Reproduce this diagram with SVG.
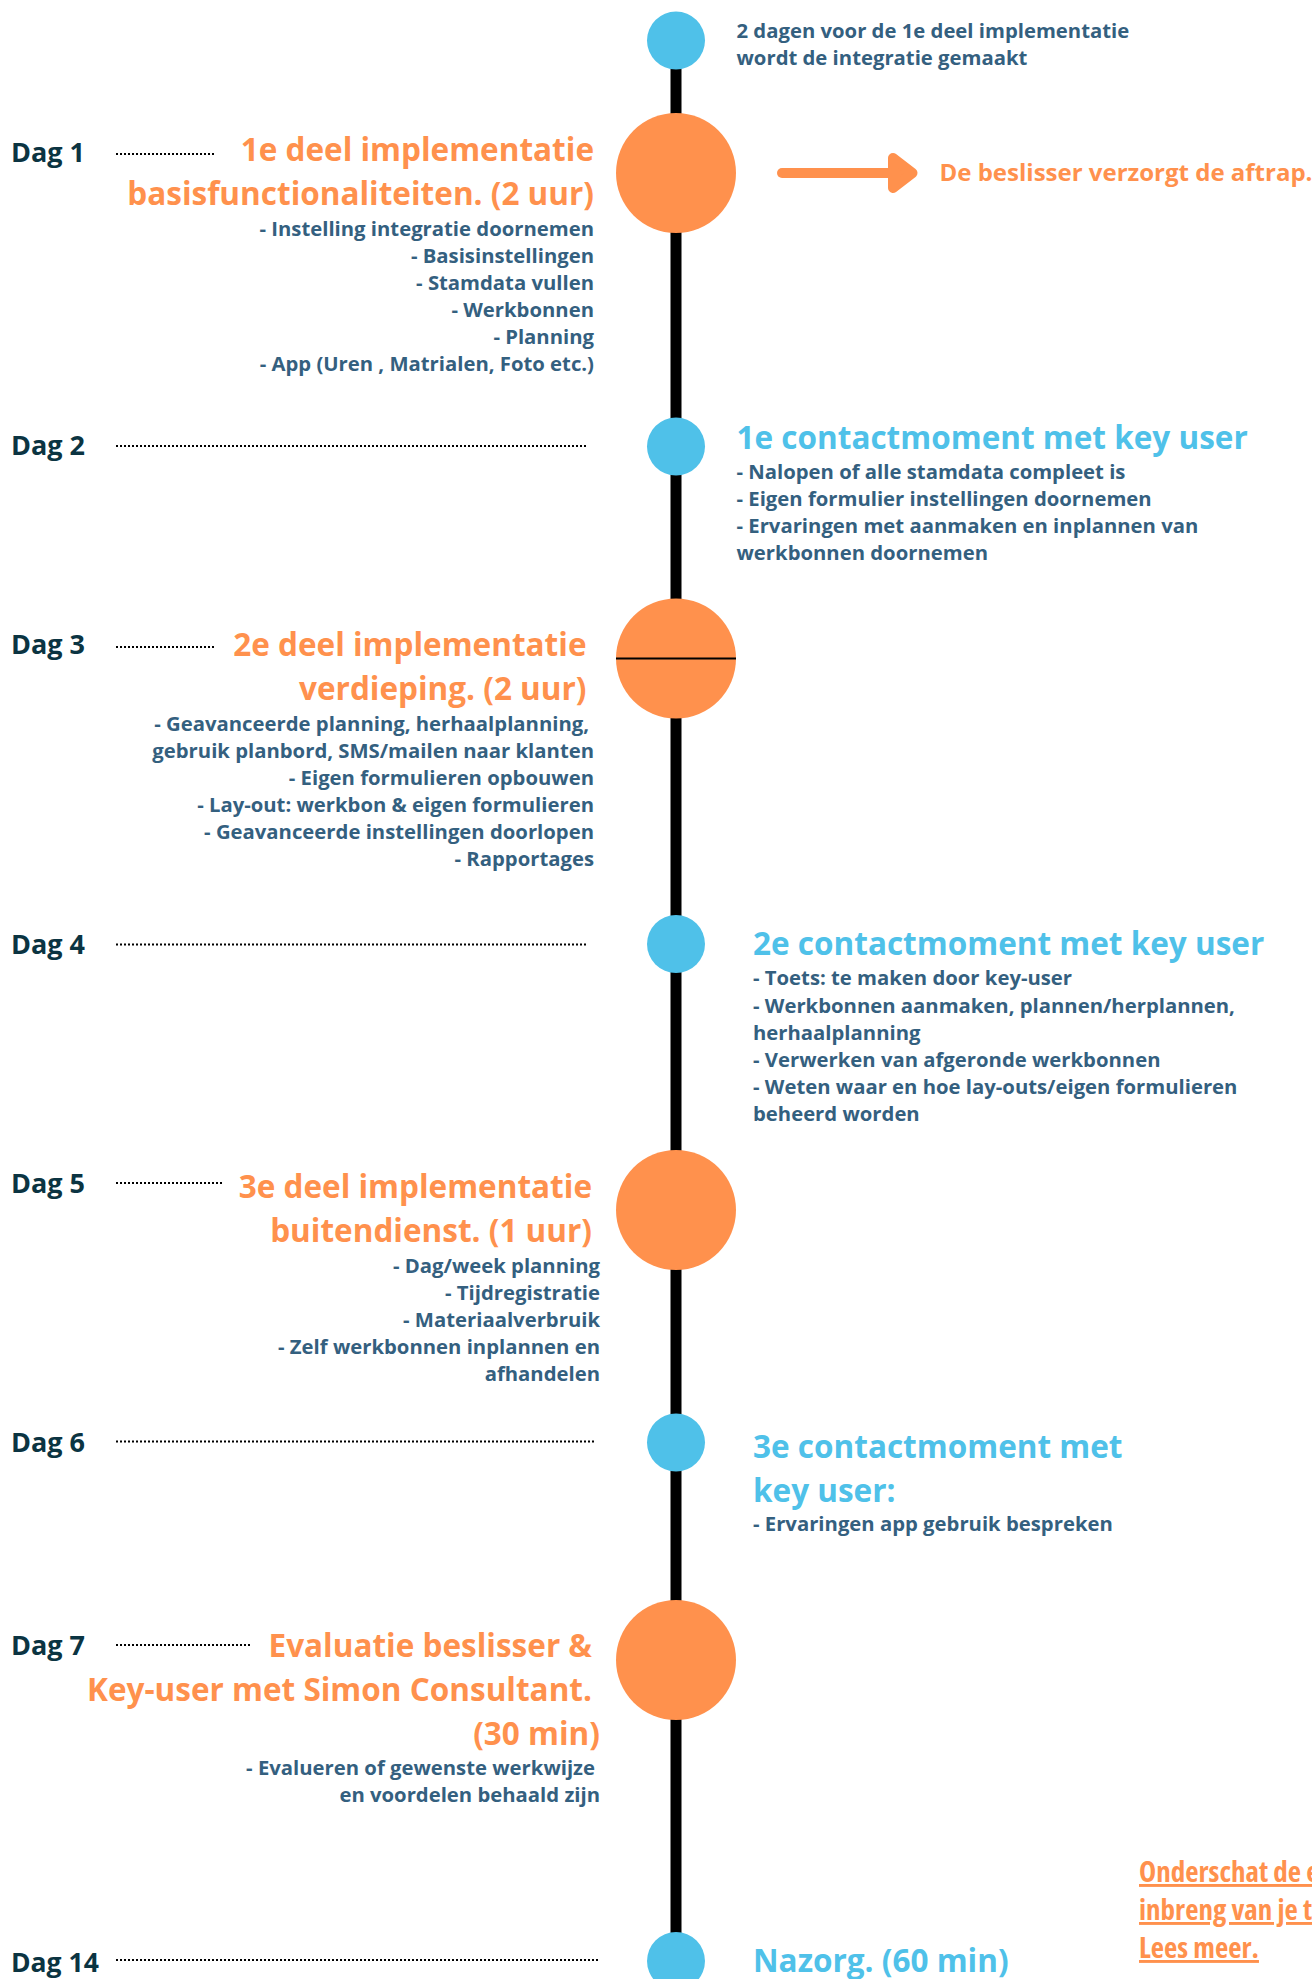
<svg xmlns="http://www.w3.org/2000/svg" width="1312" height="1979" viewBox="0 0 1312 1979">
<style>
text{font-family:"Open Sans","Noto Sans",sans-serif;font-weight:700}
.dag{font-size:27px;fill:#0b3442}
.h{font-size:31.5px;fill:#ff914d}
.hb{font-size:31.5px;fill:#4fc1e9}
.s{font-size:20.3px;fill:#34607f}
.e{text-anchor:end}
.o{fill:#ff914d}
.b{fill:#4fc1e9}
.dots{stroke:#000;stroke-width:2;stroke-dasharray:2 2;fill:none}
.link{font-size:29px;fill:#ff914d;text-decoration:underline;font-stretch:condensed}
</style>
<rect width="1312" height="1979" fill="#fff"/>
<g id="connectors">
<line x1="676" y1="40" x2="676" y2="1961" stroke="#000" stroke-width="11"/>
<line class="dots" x1="116" y1="154" x2="214" y2="154"/>
<line class="dots" x1="116" y1="446" x2="588" y2="446"/>
<line class="dots" x1="116" y1="647" x2="214" y2="647"/>
<line class="dots" x1="116" y1="944.5" x2="588" y2="944.5"/>
<line class="dots" x1="116" y1="1183" x2="222" y2="1183"/>
<line class="dots" x1="116" y1="1441.5" x2="594" y2="1441.5"/>
<line class="dots" x1="116" y1="1645" x2="251" y2="1645"/>
<line class="dots" x1="116" y1="1960" x2="599" y2="1960"/>
<g id="arrow" class="o" stroke="#ff914d" stroke-width="10" stroke-linecap="round" stroke-linejoin="round"><path d="M782 173H895" fill="none"/><path d="M893 158L912.5 173L893 188Z"/></g>
</g>
<g id="node-start"><circle class="b" cx="676" cy="40.5" r="29"/>
<text class="s" x="736.5" y="37.5">2 dagen voor de 1e deel implementatie</text>
<text class="s" x="736.5" y="64.5">wordt de integratie gemaakt</text></g>
<g id="node-dag1"><circle class="o" cx="676" cy="173" r="60"/>
<text class="dag" x="11" y="161.5">Dag 1</text>
<text class="h e" x="594" y="161">1e deel implementatie</text>
<text class="h e" x="594" y="205">basisfunctionaliteiten. (2 uur)</text>
<text class="s e" x="594" y="236">- Instelling integratie doornemen</text>
<text class="s e" x="594" y="263">- Basisinstellingen</text>
<text class="s e" x="594" y="290">- Stamdata vullen</text>
<text class="s e" x="594" y="317">- Werkbonnen</text>
<text class="s e" x="594" y="344">- Planning</text>
<text class="s e" x="594" y="370.5">- App (Uren , Matrialen, Foto etc.)</text>
<text x="939.5" y="181" font-size="24" fill="#ff914d">De beslisser verzorgt de aftrap.</text></g>
<g id="node-dag2"><circle class="b" cx="676" cy="446.5" r="29"/>
<text class="dag" x="11" y="455">Dag 2</text>
<text class="hb" x="736.5" y="449">1e contactmoment met key user</text>
<text class="s" x="736.5" y="479">- Nalopen of alle stamdata compleet is</text>
<text class="s" x="736.5" y="506">- Eigen formulier instellingen doornemen</text>
<text class="s" x="736.5" y="533">- Ervaringen met aanmaken en inplannen van</text>
<text class="s" x="736.5" y="560">werkbonnen doornemen</text></g>
<g id="node-dag3"><circle class="o" cx="676" cy="658.5" r="60"/>
<line x1="616" y1="658.5" x2="736" y2="658.5" stroke="#000" stroke-width="2"/>
<text class="dag" x="11" y="654">Dag 3</text>
<text class="h e" x="586.5" y="655.5">2e deel implementatie</text>
<text class="h e" x="586.5" y="699.5">verdieping. (2 uur)</text>
<text class="s e" x="589" y="730.5">- Geavanceerde planning, herhaalplanning,</text>
<text class="s e" x="594" y="757.5">gebruik planbord, SMS/mailen naar klanten</text>
<text class="s e" x="594" y="784.5">- Eigen formulieren opbouwen</text>
<text class="s e" x="594" y="811.5">- Lay-out: werkbon &amp; eigen formulieren</text>
<text class="s e" x="594" y="838.5">- Geavanceerde instellingen doorlopen</text>
<text class="s e" x="594" y="865.5">- Rapportages</text></g>
<g id="node-dag4"><circle class="b" cx="676" cy="944" r="29"/>
<text class="dag" x="11" y="954">Dag 4</text>
<text class="hb" x="753" y="955">2e contactmoment met key user</text>
<text class="s" x="753" y="985">- Toets: te maken door key-user</text>
<text class="s" x="753" y="1012.5">- Werkbonnen aanmaken, plannen/herplannen,</text>
<text class="s" x="753" y="1039.5">herhaalplanning</text>
<text class="s" x="753" y="1066.5">- Verwerken van afgeronde werkbonnen</text>
<text class="s" x="753" y="1093.5">- Weten waar en hoe lay-outs/eigen formulieren</text>
<text class="s" x="753" y="1120.5">beheerd worden</text></g>
<g id="node-dag5"><circle class="o" cx="676" cy="1210" r="60"/>
<text class="dag" x="11" y="1192.5">Dag 5</text>
<text class="h e" x="592" y="1197.5">3e deel implementatie</text>
<text class="h e" x="592" y="1241.5">buitendienst. (1 uur)</text>
<text class="s e" x="600" y="1273">- Dag/week planning</text>
<text class="s e" x="600" y="1300">- Tijdregistratie</text>
<text class="s e" x="600" y="1327">- Materiaalverbruik</text>
<text class="s e" x="600" y="1354">- Zelf werkbonnen inplannen en</text>
<text class="s e" x="600" y="1381">afhandelen</text></g>
<g id="node-dag6"><circle class="b" cx="676" cy="1442.5" r="29"/>
<text class="dag" x="11" y="1451.5">Dag 6</text>
<text class="hb" x="753" y="1458">3e contactmoment met</text>
<text class="hb" x="753" y="1502">key user:</text>
<text class="s" x="753" y="1531">- Ervaringen app gebruik bespreken</text></g>
<g id="node-dag7"><circle class="o" cx="676" cy="1660" r="60"/>
<text class="dag" x="11" y="1655">Dag 7</text>
<text class="h e" x="592" y="1656.5">Evaluatie beslisser &amp;</text>
<text class="h e" x="592" y="1700.5">Key-user met Simon Consultant.</text>
<text class="h e" x="600" y="1744.5">(30 min)</text>
<text class="s e" x="595" y="1775">- Evalueren of gewenste werkwijze</text>
<text class="s e" x="600" y="1802">en voordelen behaald zijn</text></g>
<g id="node-dag14"><circle class="b" cx="676" cy="1961" r="29"/>
<text class="dag" x="11" y="1971.5" style="font-size:26.5px">Dag 14</text>
<text class="hb" x="753" y="1971.5">Nazorg. (60 min)</text></g>
<g id="link-note">
<text class="link" x="1139" y="1882">Onderschat de e</text>
<text class="link" x="1139" y="1920">inbreng van je t</text>
<text class="link" x="1139" y="1958">Lees meer.</text></g>
</svg>
